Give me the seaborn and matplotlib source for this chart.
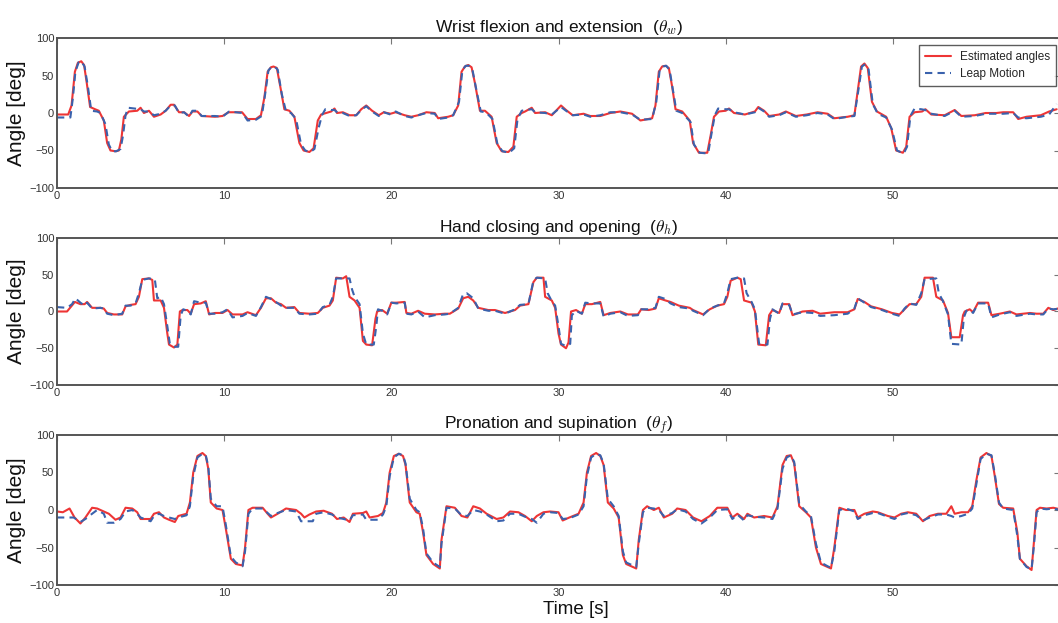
import numpy as np
import matplotlib
matplotlib.use("Agg")
import matplotlib.pyplot as plt
import seaborn as sns

# ---------------- data (time [s], angle [deg]) ----------------
wrist_est = [(0,-2),(0.67,-2),(0.87,10),(1.07,55),(1.25,67),(1.45,69),(1.62,64),(1.78,40),(1.98,8),(2.28,5),(2.5,3),(2.8,-10),(3.0,-40),(3.2,-50),(3.5,-51),(3.7,-50),(3.85,-35),(4.0,-5),(4.3,2),(4.8,3),(5.0,7),(5.2,0),(5.5,3),(5.8,-5),(6.2,-2),(6.5,3),(6.8,11),(7.0,11),(7.3,1),(7.6,1),(7.9,-4),(8.1,2),(8.4,2),(8.65,-4),(9.45,-5),(9.9,-4),(10.26,1),(11.07,1),(11.4,-8),(11.9,-8),(12.2,-3),(12.4,20),(12.6,55),(12.8,61),(12.95,62),(13.15,60),(13.4,30),(13.6,5),(13.9,3),(14.2,-5),(14.5,-40),(14.75,-50),(15.1,-52),(15.35,-47),(15.6,-10),(15.8,-2),(16.1,0),(16.4,2),(16.6,6),(16.75,0),(17.1,1),(17.5,-3),(17.9,-3),(18.2,5),(18.5,10),(18.85,3),(19.25,-3),(19.55,1),(19.95,-1),(20.26,1),(20.8,-3),(21.2,-5),(21.6,-3),(22.1,1),(22.6,0),(22.8,-7),(23.4,-5),(23.7,-3),(24.0,10),(24.2,55),(24.4,62),(24.6,64),(24.8,61),(25.0,40),(25.3,3),(25.6,3),(26.0,-5),(26.3,-40),(26.6,-51),(27.0,-52),(27.3,-45),(27.5,-5),(27.8,0),(28.0,2),(28.4,7),(28.6,0),(29.2,1),(29.6,-3),(30.15,10),(30.45,4),(30.85,-3),(31.5,-1),(31.9,-4),(32.5,-4),(33.1,0),(33.7,2),(34.4,-1),(34.9,-10),(35.6,-7),(35.8,10),(36.0,55),(36.2,62),(36.4,63),(36.6,60),(36.8,35),(37.0,5),(37.4,2),(37.85,-10),(38.05,-40),(38.4,-53),(38.9,-53),(39.1,-30),(39.3,-5),(39.6,2),(40.0,3),(40.2,6),(40.5,0),(41.15,-2),(41.75,2),(41.95,8),(42.3,3),(42.6,-4),(43.2,-2),(43.6,2),(44.2,-4),(44.85,-2),(45.5,1),(46.1,-1),(46.5,-7),(47.3,-5),(47.7,-3),(47.9,30),(48.1,62),(48.3,66),(48.5,60),(48.75,15),(49.05,2),(49.6,-5),(49.9,-20),(50.2,-50),(50.6,-53),(50.8,-45),(51.0,-5),(51.3,1),(51.75,2),(51.95,5),(52.3,-2),(53.1,-3),(53.7,4),(54.1,-4),(54.9,-3),(55.55,0),(56.2,0),(56.6,1),(57.2,1),(57.5,-8),(58.0,-5),(58.85,-3),(59.35,2),(59.8,5)]

wrist_leap = [(0,-6),(0.8,-6),(0.95,20),(1.1,55),(1.3,68),(1.45,69),(1.65,62),(1.85,35),(2.05,3),(2.4,2),(2.6,0),(2.9,-15),(3.1,-42),(3.3,-51),(3.55,-51),(3.8,-48),(3.95,-30),(4.1,-3),(4.25,7),(4.6,6),(5.0,5),(5.2,2),(5.5,2),(5.8,-3),(6.2,-1),(6.5,3),(6.8,10),(7.05,10),(7.3,0),(7.6,1),(7.9,-5),(8.1,3),(8.4,3),(8.65,-4),(9.45,-4),(9.9,-5),(10.3,2),(11.1,0),(11.4,-10),(11.9,-9),(12.25,-4),(12.45,25),(12.65,57),(12.85,62),(13.0,62),(13.2,58),(13.45,25),(13.7,2),(14.0,0),(14.3,-8),(14.6,-42),(14.85,-50),(15.15,-52),(15.4,-48),(15.65,-20),(15.85,-3),(16.05,5),(16.4,4),(16.6,4),(16.8,0),(17.1,0),(17.5,-4),(17.9,-3),(18.2,4),(18.5,9),(18.85,2),(19.25,-4),(19.55,1),(19.95,-2),(20.26,2),(20.8,-4),(21.2,-6),(21.6,-3),(22.1,0),(22.6,-1),(22.8,-8),(23.4,-6),(23.7,-3),(24.05,15),(24.25,57),(24.45,63),(24.65,63),(24.85,58),(25.05,35),(25.35,2),(25.65,1),(26.05,-8),(26.35,-42),(26.65,-51),(27.05,-53),(27.35,-47),(27.55,-8),(27.8,3),(28.0,4),(28.4,5),(28.6,1),(29.2,0),(29.6,-2),(30.15,8),(30.45,3),(30.85,-3),(31.5,-2),(31.9,-5),(32.5,-3),(33.1,1),(33.7,1),(34.4,-2),(34.9,-9),(35.6,-8),(35.85,15),(36.05,57),(36.25,62),(36.45,63),(36.65,57),(36.85,30),(37.05,3),(37.4,0),(37.9,-12),(38.1,-42),(38.45,-53),(38.95,-54),(39.15,-28),(39.35,-3),(39.55,6),(40.0,5),(40.2,5),(40.5,1),(41.15,-2),(41.75,1),(41.95,7),(42.3,2),(42.6,-5),(43.2,-3),(43.6,1),(44.2,-5),(44.85,-3),(45.5,0),(46.1,-2),(46.5,-8),(47.3,-5),(47.7,-4),(47.95,32),(48.15,62),(48.35,65),(48.55,58),(48.8,12),(49.1,-1),(49.6,-6),(49.95,-22),(50.25,-50),(50.65,-54),(50.85,-45),(51.05,-4),(51.3,6),(51.7,5),(51.95,4),(52.3,-1),(53.1,-4),(53.7,3),(54.1,-5),(54.9,-4),(55.55,-1),(56.2,-1),(56.6,-1),(57.2,0),(57.5,-6),(58.0,-7),(58.85,-5),(59.35,-2),(59.8,12)]

hand_est = [(0,0),(0.6,0),(1.07,13),(1.4,10),(1.65,10),(1.8,13),(2.1,5),(2.6,5),(2.8,4),(3.0,-2),(3.4,-4),(3.9,-4),(4.1,7),(4.4,9),(4.7,10),(4.9,20),(5.1,44),(5.5,45),(5.7,43),(5.8,15),(6.2,15),(6.4,5),(6.6,-30),(6.7,-45),(7.0,-49),(7.2,-45),(7.35,0),(7.5,2),(7.8,2),(8.0,-3),(8.2,10),(8.6,11),(8.9,14),(9.1,-4),(9.45,-2),(9.9,-2),(10.2,2),(10.5,-4),(11.1,-4),(11.4,-1),(11.9,-5),(12.2,5),(12.5,18),(12.8,18),(13.1,12),(13.4,10),(13.7,5),(14.2,6),(14.5,-2),(15.1,-3),(15.6,-2),(15.9,5),(16.3,8),(16.5,15),(16.7,46),(17.1,45),(17.3,48),(17.5,20),(17.8,15),(18.1,5),(18.3,-40),(18.5,-45),(18.85,-46),(19.05,-10),(19.15,0),(19.45,2),(19.75,-3),(20.0,12),(20.3,12),(20.8,13),(20.9,-2),(21.2,-3),(21.6,1),(22.0,-3),(22.6,-4),(23.2,-3),(23.5,-3),(24.0,4),(24.3,18),(24.6,20),(24.9,15),(25.2,5),(25.8,2),(26.2,2),(26.8,-2),(27.4,2),(27.7,8),(28.2,10),(28.5,40),(28.7,46),(29.1,46),(29.2,20),(29.6,15),(29.8,5),(30.0,-30),(30.15,-45),(30.45,-50),(30.6,-42),(30.75,0),(31.05,2),(31.4,-3),(31.6,10),(32.0,10),(32.5,13),(32.7,-5),(33.1,-2),(33.7,0),(34.15,-4),(34.75,-4),(34.95,3),(35.4,2),(35.8,4),(36.0,18),(36.4,15),(36.7,13),(37.2,8),(37.85,5),(38.05,2),(38.65,-4),(39.05,3),(39.5,8),(39.9,10),(40.1,20),(40.3,42),(40.7,46),(40.9,44),(41.1,15),(41.55,12),(41.75,0),(41.95,-45),(42.4,-46),(42.6,-5),(42.8,2),(43.2,-2),(43.4,10),(43.8,10),(44.0,-5),(44.6,0),(45.2,1),(45.65,-3),(46.5,-1),(47.3,-1),(47.7,3),(47.9,17),(48.3,13),(48.7,7),(49.35,3),(49.95,-2),(50.4,-4),(50.7,3),(51.0,10),(51.4,10),(51.7,20),(51.9,46),(52.4,46),(52.6,20),(53.0,15),(53.3,-2),(53.5,-35),(54.0,-35),(54.2,-5),(54.3,0),(54.6,3),(54.8,-1),(55.1,12),(55.7,12),(55.9,-5),(56.4,-3),(57.0,0),(57.4,-4),(58.2,-2),(58.6,-3),(59.0,-3),(59.3,5),(59.6,2),(60,5)]

hand_leap = [(0,6),(0.6,5),(0.9,10),(1.1,18),(1.4,12),(1.65,8),(1.8,12),(2.1,4),(2.6,5),(2.8,4),(3.0,-3),(3.4,-5),(3.9,-3),(4.1,8),(4.4,8),(4.7,11),(4.9,25),(5.1,43),(5.5,45),(5.85,44),(6.0,18),(6.2,20),(6.4,10),(6.6,-20),(6.75,-44),(7.0,-48),(7.25,-48),(7.4,-5),(7.55,3),(7.8,1),(8.0,-4),(8.2,14),(8.6,12),(8.9,12),(9.1,-3),(9.45,-3),(9.9,-1),(10.2,3),(10.5,-8),(11.1,-6),(11.4,-2),(11.9,-6),(12.2,6),(12.5,20),(12.8,17),(13.1,13),(13.4,8),(13.7,5),(14.2,5),(14.5,-3),(15.1,-4),(15.6,-3),(15.9,6),(16.3,9),(16.5,20),(16.7,45),(17.1,45),(17.5,45),(17.65,30),(17.8,20),(18.1,10),(18.3,-30),(18.5,-45),(18.95,-45),(19.1,-20),(19.2,3),(19.45,1),(19.75,-4),(20.0,12),(20.3,11),(20.8,12),(20.9,-3),(21.2,-4),(21.6,0),(22.0,-8),(22.6,-5),(23.2,-4),(23.5,-3),(24.0,5),(24.3,24),(24.5,25),(24.9,18),(25.2,4),(25.8,1),(26.2,1),(26.8,-3),(27.4,3),(27.7,9),(28.2,10),(28.5,42),(28.7,46),(29.2,45),(29.35,25),(29.6,14),(29.8,8),(30.0,-20),(30.15,-44),(30.45,-47),(30.7,-44),(30.8,-5),(31.05,1),(31.4,-3),(31.6,12),(32.0,11),(32.5,11),(32.7,-7),(33.1,-3),(33.7,-1),(34.15,-6),(34.75,-5),(34.95,3),(35.4,3),(35.8,5),(36.0,20),(36.4,17),(36.7,11),(37.2,6),(37.85,4),(38.05,1),(38.65,-5),(39.05,4),(39.5,8),(39.9,11),(40.1,25),(40.3,44),(40.7,46),(41.1,45),(41.25,25),(41.55,13),(41.75,3),(42.0,-44),(42.5,-45),(42.65,-10),(42.8,3),(43.2,-3),(43.4,11),(43.8,9),(44.0,-4),(44.6,-1),(45.2,-2),(45.65,-6),(46.5,-5),(47.3,-3),(47.7,4),(47.9,18),(48.3,12),(48.7,6),(49.35,2),(49.95,-3),(50.4,-6),(50.7,4),(51.0,11),(51.4,9),(51.7,25),(51.9,44),(52.6,45),(52.75,25),(53.0,14),(53.3,-4),(53.5,-44),(54.1,-45),(54.25,-8),(54.4,1),(54.6,2),(54.8,-2),(55.1,11),(55.7,11),(55.9,-8),(56.4,-4),(57.0,-1),(57.4,-6),(58.2,-3),(58.6,-4),(59.0,-4),(59.3,4),(59.6,3),(60,4)]

fore_est = [(0,-2),(0.35,-3),(0.75,2),(1.05,-10),(1.4,-18),(1.7,-10),(2.1,3),(2.4,2),(2.8,-2),(3.1,-5),(3.5,-13),(3.8,-10),(4.1,3),(4.5,2),(4.8,-3),(5.0,-12),(5.6,-12),(5.8,-5),(6.1,-3),(6.4,-10),(6.7,-13),(7.05,-16),(7.25,-8),(7.75,-5),(7.95,10),(8.15,50),(8.4,72),(8.7,76),(8.9,72),(9.05,55),(9.2,10),(9.55,2),(9.9,0),(10.1,-25),(10.4,-65),(10.7,-72),(11.1,-74),(11.25,-50),(11.45,0),(11.7,3),(12.3,3),(12.6,-5),(12.8,-10),(13.2,-5),(13.7,2),(14.3,0),(14.6,-5),(14.8,-10),(15.1,-6),(15.5,-2),(15.95,-1),(16.45,-5),(16.75,-12),(17.15,-10),(17.5,-16),(17.7,-5),(18.3,-4),(18.5,-2),(18.7,-10),(19.2,-8),(19.5,-4),(19.7,10),(19.9,50),(20.15,72),(20.45,75),(20.7,72),(20.85,60),(21.1,10),(21.5,-3),(21.7,-5),(21.9,-30),(22.1,-60),(22.5,-72),(22.9,-78),(23.0,-40),(23.3,5),(23.8,3),(24.2,-8),(24.55,-10),(24.9,5),(25.3,2),(25.7,-5),(26.3,-12),(26.7,-10),(27.1,-2),(27.6,-3),(28.0,-8),(28.4,-15),(28.7,-8),(29.1,-3),(29.5,-2),(30.0,-3),(30.25,-14),(30.65,-10),(31.2,-5),(31.5,10),(31.7,50),(31.95,72),(32.25,76),(32.5,72),(32.7,60),(32.95,10),(33.3,2),(33.6,-10),(33.85,-60),(34.05,-72),(34.65,-78),(34.8,-40),(35.05,0),(35.3,5),(35.7,0),(36.0,3),(36.3,-10),(36.8,-5),(37.1,2),(37.6,0),(38.05,-10),(38.55,-15),(39.05,-8),(39.5,3),(40.1,3),(40.4,-10),(40.7,-5),(41.1,-12),(41.3,-5),(41.7,-10),(42.3,-8),(42.8,-10),(43.1,5),(43.4,60),(43.65,72),(43.9,73),(44.1,62),(44.4,5),(44.8,-3),(45.1,-10),(45.4,-50),(45.7,-72),(46.1,-76),(46.3,-78),(46.5,-50),(46.8,3),(47.2,0),(47.7,0),(47.9,-10),(48.3,-5),(48.8,-2),(49.1,-3),(49.7,-8),(50.1,-10),(50.5,-5),(50.9,-3),(51.4,-5),(51.8,-15),(52.2,-8),(52.7,-5),(53.2,-5),(53.5,5),(53.7,-5),(54.1,-3),(54.5,-3),(54.75,5),(55.0,40),(55.25,70),(55.6,76),(55.9,72),(56.1,45),(56.35,8),(56.6,3),(57.2,2),(57.45,-30),(57.6,-65),(58.0,-75),(58.3,-80),(58.45,-40),(58.6,0),(58.8,3),(59.2,2),(59.6,3),(60,1)]

fore_leap = [(0,-10),(1.0,-10),(1.4,-16),(1.7,-12),(2.1,-5),(2.4,0),(2.8,-5),(3.0,-17),(3.4,-17),(3.8,-12),(4.1,-2),(4.5,0),(4.8,-5),(5.0,-10),(5.6,-15),(5.8,-8),(6.1,-5),(6.4,-8),(6.7,-10),(7.05,-12),(7.25,-10),(7.75,-7),(7.95,5),(8.15,45),(8.4,70),(8.7,75),(8.9,73),(9.05,58),(9.2,15),(9.55,5),(9.9,5),(10.1,-20),(10.4,-62),(10.7,-70),(11.1,-75),(11.25,-55),(11.45,-5),(11.7,2),(12.3,2),(12.6,-4),(12.8,-8),(13.2,-4),(13.7,0),(14.3,-2),(14.6,-15),(15.3,-15),(15.5,-5),(15.95,-3),(16.45,-6),(16.75,-10),(17.15,-12),(17.5,-14),(17.7,-7),(18.3,-6),(18.5,-13),(19.2,-13),(19.5,-6),(19.7,5),(19.9,45),(20.15,70),(20.45,75),(20.7,73),(20.85,62),(21.1,15),(21.5,0),(21.7,-3),(21.9,-25),(22.1,-58),(22.5,-70),(22.9,-76),(23.0,-45),(23.3,3),(23.8,2),(24.2,-7),(24.55,-8),(24.9,0),(25.3,-2),(25.7,-6),(26.3,-15),(26.7,-14),(27.1,-5),(27.6,-5),(28.0,-9),(28.4,-12),(28.7,-17),(29.1,-5),(29.5,-3),(30.0,-4),(30.25,-12),(30.65,-11),(31.2,-6),(31.5,5),(31.7,45),(31.95,70),(32.25,75),(32.5,73),(32.7,62),(32.95,15),(33.3,5),(33.6,-8),(33.85,-55),(34.05,-70),(34.65,-76),(34.8,-45),(35.05,-3),(35.3,3),(35.7,2),(36.0,0),(36.3,-8),(36.8,-4),(37.1,1),(37.6,-2),(38.05,-12),(38.55,-18),(39.05,-10),(39.5,0),(40.1,1),(40.4,-12),(40.7,-6),(41.1,-14),(41.3,-7),(41.7,-9),(42.3,-10),(42.8,-12),(43.1,2),(43.4,55),(43.65,70),(43.9,73),(44.1,64),(44.4,8),(44.8,-2),(45.1,-8),(45.4,-45),(45.7,-70),(46.1,-75),(46.3,-77),(46.5,-55),(46.8,0),(47.2,2),(47.7,-2),(47.9,-12),(48.3,-7),(48.8,-4),(49.1,-4),(49.7,-9),(50.1,-12),(50.5,-6),(50.9,-4),(51.4,-7),(51.8,-14),(52.2,-10),(52.7,-6),(53.2,-6),(53.5,-8),(53.7,-10),(54.1,-8),(54.5,-5),(54.75,2),(55.0,35),(55.25,68),(55.6,75),(55.9,73),(56.1,48),(56.35,10),(56.6,2),(57.2,0),(57.45,-35),(57.6,-65),(58.0,-76),(58.3,-79),(58.45,-45),(58.6,-3),(58.8,2),(59.2,1),(59.6,2),(60,0)]

titles = [r"Wrist flexion and extension  ($\theta_w$)",
          r"Hand closing and opening  ($\theta_h$)",
          r"Pronation and supination  ($\theta_f$)"]
series_labels = ["Estimated angles", "Leap Motion"]
x_ticks = [0, 10, 20, 30, 40, 50]
y_ticks = [-100, -50, 0, 50, 100]

# ---------------- style ----------------
sns.set_style("white")
plt.rcParams['font.family'] = ['Liberation Sans', 'DejaVu Sans']
plt.rcParams['mathtext.fontset'] = 'cm'

RED = '#ee3535'
BLUE = '#3a62ad'

fig = plt.figure(figsize=(10.58, 6.23), dpi=100)
W, H = 1058.0, 623.0
left = 57 / W
width = (1060 - 57) / W
boxes = [(38, 188), (238, 385), (435, 585)]
axes = []
for (top, bot) in boxes:
    axes.append(fig.add_axes([left, 1 - bot / H, width, (bot - top) / H]))

pairs = [(wrist_est, wrist_leap), (hand_est, hand_leap), (fore_est, fore_leap)]
for i, ax in enumerate(axes):
    est, leap = pairs[i]
    est = np.array(est, dtype=float)
    leap = np.array(leap, dtype=float)
    sns.lineplot(x=est[:, 0], y=est[:, 1], ax=ax, color=RED, lw=1.5,
                 label=series_labels[0] if i == 0 else None, legend=False, sort=False)
    sns.lineplot(x=leap[:, 0], y=leap[:, 1], ax=ax, color=BLUE, lw=1.5,
                 linestyle=(0, (3.5, 2.5)),
                 label=series_labels[1] if i == 0 else None, legend=False, sort=False)
    ax.set_xlim(0, 60)
    ax.set_ylim(-100, 100)
    ax.set_xticks(x_ticks)
    ax.set_yticks(y_ticks)
    ax.tick_params(direction='in', top=True, right=True, length=4, width=0.8,
                   color='#777777', labelcolor='#333333', labelsize=8, pad=2)
    for sp in ax.spines.values():
        sp.set_color('#555555')
        sp.set_linewidth(1.4)
    ax.set_title(titles[i], fontsize=12.5, pad=4, color='#111111')
    ax.set_ylabel("Angle [deg]", fontsize=15, labelpad=2, color='#111111')
    ax.set_xlabel("")

axes[2].set_xlabel("Time [s]", fontsize=13.5, color='#111111')
axes[2].xaxis.set_label_coords(0.517, -0.105, transform=axes[2].transAxes)
axes[2].xaxis.label.set_va('top')

leg = axes[0].legend(loc='upper right', bbox_to_anchor=(0.996, 0.955), borderaxespad=0,
                     fontsize=8.5, frameon=True, fancybox=False, handlelength=2.2,
                     borderpad=0.5, labelspacing=0.45)
leg.get_frame().set_edgecolor('#333333')
leg.get_frame().set_linewidth(1.0)

fig.savefig("out.png", dpi=100)
